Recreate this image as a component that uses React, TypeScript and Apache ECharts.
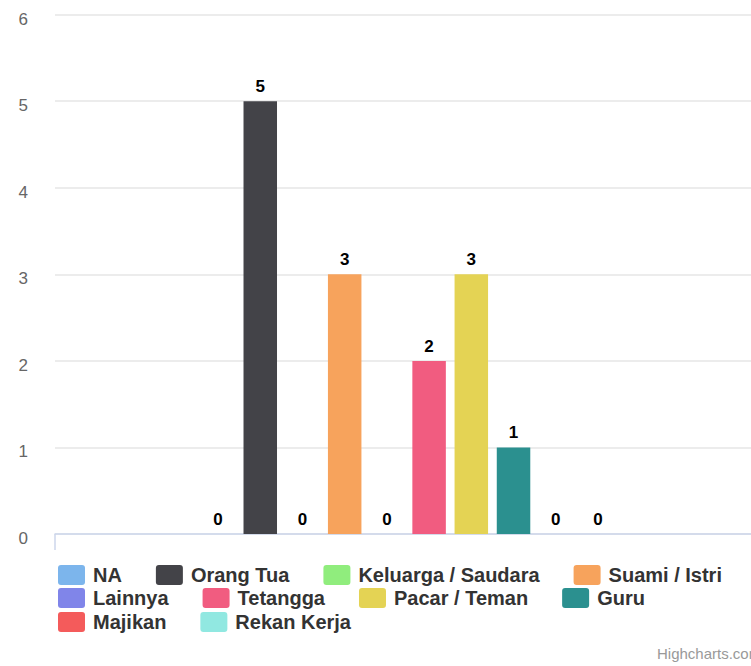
import React, { useEffect, useRef } from "react";
import * as echarts from "echarts";

// One category, one bar per relationship group
const categories = [""];
const seriesNames = [
  "NA",
  "Orang Tua",
  "Keluarga / Saudara",
  "Suami / Istri",
  "Lainnya",
  "Tetangga",
  "Pacar / Teman",
  "Guru",
  "Majikan",
  "Rekan Kerja",
];
const seriesValues = [0, 5, 0, 3, 0, 2, 3, 1, 0, 0];
const seriesColors = [
  "#7cb5ec",
  "#434348",
  "#90ed7d",
  "#f7a35c",
  "#8085e9",
  "#f15c80",
  "#e4d354",
  "#2b908f",
  "#f45b5b",
  "#91e8e1",
];
const yTicks = [0, 1, 2, 3, 4, 5, 6];

// Legend rows (flow layout, wrapped as three lines)
const legendRows = [
  ["NA", "Orang Tua", "Keluarga / Saudara", "Suami / Istri"],
  ["Lainnya", "Tetangga", "Pacar / Teman", "Guru"],
  ["Majikan", "Rekan Kerja"],
];
const legendRowTops = [565, 588, 612];

const FONT = '"Liberation Sans", Arial, Helvetica, sans-serif';
const ICON =
  "path://M3,0H24A3,3,0,0,1,27,3V17A3,3,0,0,1,24,20H3A3,3,0,0,1,0,17V3A3,3,0,0,1,3,0Z";

export default function App() {
  const ref = useRef<HTMLDivElement>(null);

  useEffect(() => {
    if (!ref.current) return;
    const chart = echarts.init(ref.current, undefined, { renderer: "svg" });

    const option: echarts.EChartsOption = {
      animation: false,
      backgroundColor: "#ffffff",
      textStyle: { fontFamily: FONT },
      grid: { left: 55, right: 0, top: 14.7, bottom: 132 },
      xAxis: {
        type: "category",
        data: categories,
        axisLine: { show: true, lineStyle: { color: "#ccd6eb", width: 1.5 } },
        axisTick: { show: true, length: 16, lineStyle: { color: "#ccd6eb", width: 1.5 } },
        axisLabel: { show: false },
      },
      yAxis: {
        type: "value",
        min: yTicks[0],
        max: yTicks[yTicks.length - 1],
        interval: 1,
        axisLine: { show: false },
        axisTick: { show: false },
        splitLine: { lineStyle: { color: "#e6e6e6", width: 1.5 } },
        axisLabel: {
          color: "#666666",
          fontSize: 17,
          fontFamily: FONT,
          margin: 27,
          // labels sit slightly below their grid lines
          verticalAlign: "top",
          lineHeight: 9,
        },
      },
      legend: legendRows.map((row, i) => ({
        data: row,
        left: 58,
        top: legendRowTops[i],
        orient: "horizontal",
        padding: 0,
        itemGap: 34,
        itemWidth: 27,
        itemHeight: 20,
        icon: ICON,
        selectedMode: false,
        textStyle: {
          color: "#333333",
          fontSize: 20,
          fontWeight: "bold",
          fontFamily: FONT,
          lineHeight: 20,
          padding: [0, 0, 0, 3],
        },
      })),
      series: seriesNames.map((name, i) => ({
        type: "bar",
        name,
        data: [seriesValues[i]],
        barWidth: 33.5,
        barGap: "26%",
        itemStyle: { color: seriesColors[i] },
        label: {
          show: true,
          position: "top",
          distance: 6,
          color: "#000000",
          fontSize: 17,
          fontWeight: "bold",
          fontFamily: FONT,
        },
      })),
      graphic: [
        {
          type: "text",
          left: 657,
          top: 646,
          style: {
            text: "Highcharts.com",
            fill: "#999999",
            fontSize: 15,
            fontFamily: FONT,
          },
        },
      ],
    };

    chart.setOption(option);
    return () => chart.dispose();
  }, []);

  // The plot runs a little past the right edge of the frame, which clips it
  return (
    <div
      style={{
        position: "absolute",
        left: 0,
        top: 0,
        width: 751,
        height: 666,
        overflow: "hidden",
      }}
    >
      <div ref={ref} style={{ width: 761, height: 666 }} />
    </div>
  );
}
